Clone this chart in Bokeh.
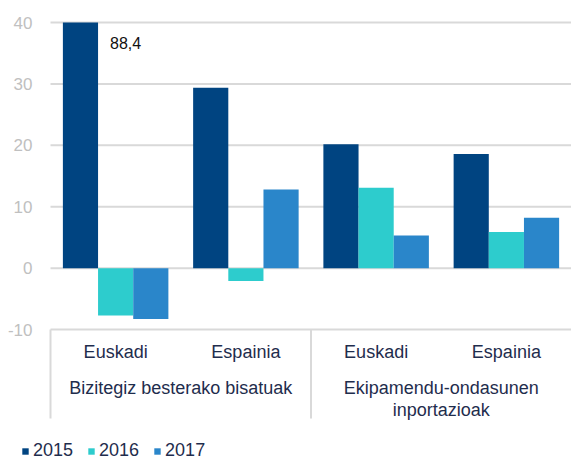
import numpy as np
from bokeh.plotting import figure
from bokeh.models import ColumnDataSource, Range1d, FixedTicker, Legend, LegendItem
from bokeh.transform import dodge
from bokeh.core.properties import value
from bokeh.embed import file_html
from bokeh.resources import INLINE

# ---- data ----
groups = ["Bizitegiz besterako bisatuak", "Ekipamendu-ondasunen inportazioak"]
group_labels = ["Bizitegiz besterako bisatuak", "Ekipamendu-ondasunen\ninportazioak"]
regions = ["Euskadi", "Espainia"]
years = ["2015", "2016", "2017"]
v2015 = [88.4, 29.4, 20.2, 18.6]
v2016 = [-7.7, -2.1, 13.1, 5.9]
v2017 = [-8.3, 12.8, 5.3, 8.2]
y_ticks = [-10, 0, 10, 20, 30, 40]

# ---- styling / layout ----
colors = ["#004481", "#2DCCCD", "#2A86CA"]
FONT = "Liberation Sans"
TEXT_COLOR = "#1f2d4d"
GRID_COLOR = "#d9d9d9"
AXIS_MAX = y_ticks[-1]      # value axis is cut at 40 (the 88,4 bar is truncated)
Y_START, Y_END = -31.5, 43.6
X_LEFT_PAD = 0.384          # empty room left of the first category (holds the y tick labels)
SEP_END = -24.5
BAR_W = 0.27

factors = [(g, r) for g in groups for r in regions]
xs = [i + 0.5 for i in range(len(factors))]
n = len(factors)
series = [v2015, v2016, v2017]
cols = ["y2015", "y2016", "y2017"]
data = dict(x=xs)
for col, vals in zip(cols, series):
    data[col] = list(np.minimum(vals, AXIS_MAX))
source = ColumnDataSource(data)

p = figure(
    x_range=Range1d(-X_LEFT_PAD, n),
    y_range=Range1d(Y_START, Y_END),
    width=571, height=461,
    output_backend="svg", toolbar_location=None,
    min_border_left=0, min_border_right=0, min_border_top=0, min_border_bottom=0,
)
p.outline_line_color = None
p.background_fill_color = "white"
p.border_fill_color = "white"

p.xaxis.visible = False
p.grid.grid_line_color = None

# y axis drawn at the left edge of the category area
p.yaxis.fixed_location = 0
p.yaxis.ticker = FixedTicker(ticks=y_ticks)
p.yaxis.major_label_overrides = {t: str(t) for t in y_ticks}
p.yaxis.axis_line_color = None
p.yaxis.major_tick_line_color = None
p.yaxis.minor_tick_line_color = None
p.yaxis.major_tick_out = 0
p.yaxis.major_label_standoff = 18
p.yaxis.major_label_text_font = FONT
p.yaxis.major_label_text_font_size = "17px"
p.yaxis.major_label_text_color = "#c0c0c0"

# horizontal gridlines over the category area only
grid_src = ColumnDataSource(dict(y=y_ticks))
p.segment(x0=0, y0="y", x1=n, y1="y", source=grid_src, line_color=GRID_COLOR, line_width=2)

# separators between the two category groups (below the -10 line)
group_left = [min(i for i, f in enumerate(factors) if f[0] == g) for g in groups]
sep_src = ColumnDataSource(dict(x=group_left))
p.segment(x0="x", y0=y_ticks[0], x1="x", y1=SEP_END,
          source=sep_src, line_color=GRID_COLOR, line_width=2)

offsets = [-BAR_W, 0, BAR_W]
items = []
for yr, col, off, c in zip(years, cols, offsets, colors):
    r = p.vbar(x=dodge("x", off), top=col, bottom=0, width=BAR_W,
               source=source, fill_color=c, line_color=None)
    items.append(LegendItem(label=yr, renderers=[r]))

# region labels
reg_src = ColumnDataSource(dict(x=xs, text=[f[1] for f in factors]))
p.text(x="x", y=-13.6, text="text", source=reg_src,
       text_font=value(FONT), text_font_size="18px", text_color=TEXT_COLOR,
       text_align="center", text_baseline="middle")

# group labels
group_center = [sum(x for x, f in zip(xs, factors) if f[0] == g) /
                sum(1 for f in factors if f[0] == g) for g in groups]
grp_src = ColumnDataSource(dict(x=group_center, text=group_labels))
p.text(x="x", y=-17.9, text="text", source=grp_src,
       text_font=value(FONT), text_font_size="18px", text_color=TEXT_COLOR,
       text_align="center", text_baseline="top", text_line_height=1.1)

# value label for the truncated bar
lab_src = ColumnDataSource(dict(x=[xs[0]], text=[f"{v2015[0]:.1f}".replace(".", ",")]))
p.text(x=dodge("x", -BAR_W / 2), y=AXIS_MAX - 3.4, text="text", source=lab_src,
       x_offset=12, text_font=value(FONT), text_font_size="16px", text_color="#111111",
       text_align="left", text_baseline="middle")

legend = Legend(items=items, location=(21, 0), orientation="horizontal",
                border_line_color=None, background_fill_alpha=0, padding=0, margin=0,
                spacing=14, glyph_width=8, glyph_height=8, label_standoff=4, label_height=14,
                label_text_font=FONT, label_text_font_size="18px", label_text_color=TEXT_COLOR)
p.add_layout(legend, "center")

open("out.html", "w").write(file_html(p, INLINE))
